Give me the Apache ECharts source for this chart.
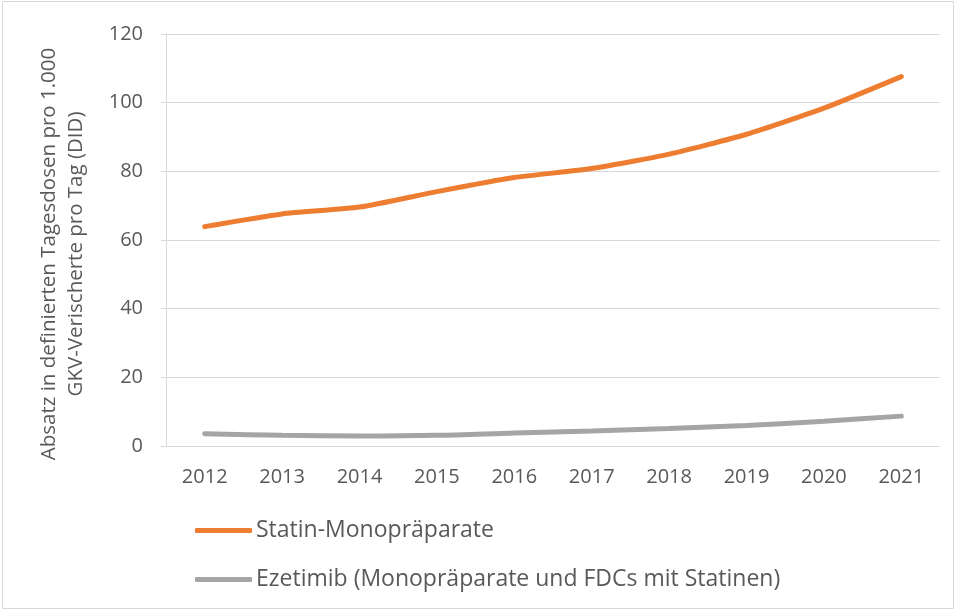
<!DOCTYPE html>
<html><head><meta charset="utf-8">
<script src="https://cdn.jsdelivr.net/npm/echarts@6/dist/echarts.min.js"></script>
<style>html,body{margin:0;padding:0;background:#fff}#c{width:957px;height:612px}</style>
</head><body><div id="c"></div>
<script>
const years = ['2012','2013','2014','2015','2016','2017','2018','2019','2020','2021'];
const statin = [63.9, 67.6, 69.6, 74.1, 78.2, 80.8, 85.0, 90.8, 98.4, 107.6];
const ezetimib = [3.6, 3.1, 2.9, 3.1, 3.8, 4.4, 5.1, 6.0, 7.2, 8.7];
const seriesNames = ['Statin-Monopräparate', 'Ezetimib (Monopräparate und FDCs mit Statinen)'];
const yTitle = 'Absatz in definierten Tagesdosen pro 1.000\nGKV-Verischerte pro Tag (DID)';

const FONT = '"Open Sans", sans-serif';
const chart = echarts.init(document.getElementById('c'), null, {renderer: 'canvas'});
chart.setOption({
  animation: false,
  textStyle: {fontFamily: FONT},
  graphic: [{type: 'rect', shape: {x: 2.5, y: 1.5, width: 951, height: 607}, style: {fill: 'none', stroke: '#d9d9d9', lineWidth: 1}}],
  grid: {left: 166, right: 17, top: 34, bottom: 166, containLabel: false},
  legend: {
    orient: 'vertical', left: 195, top: 519, itemGap: 26, padding: 0,
    itemWidth: 57, itemHeight: 5,
    icon: 'roundRect',
    textStyle: {fontFamily: FONT, fontSize: 23, color: '#595959', padding: [0, 0, 0, -1]},
    data: seriesNames
  },
  xAxis: {
    type: 'category', data: years, boundaryGap: true,
    axisLine: {lineStyle: {color: '#d9d9d9', width: 1}},
    axisTick: {show: false},
    axisLabel: {fontSize: 20, color: '#595959', margin: 21, fontFamily: FONT}
  },
  yAxis: {
    type: 'value', min: 0, max: 120, interval: 20,
    name: yTitle, nameLocation: 'middle', nameGap: 76, nameRotate: 90,
    nameTextStyle: {fontSize: 20.5, color: '#595959', lineHeight: 27, fontFamily: FONT, padding: [0, 28, 0, 0]},
    axisLine: {show: true, lineStyle: {color: '#d9d9d9', width: 1}},
    axisTick: {show: true, inside: false, length: 5, lineStyle: {color: '#d9d9d9'}},
    splitLine: {lineStyle: {color: '#d9d9d9', width: 1}},
    axisLabel: {fontSize: 20, color: '#595959', margin: 23, fontFamily: FONT}
  },
  series: [
    {name: seriesNames[0], type: 'line', data: statin, smooth: 0.2, symbol: 'none',
     lineStyle: {color: '#ED7D31', width: 5, cap: 'round'}, itemStyle: {color: '#ED7D31'}},
    {name: seriesNames[1], type: 'line', data: ezetimib, smooth: 0.3, symbol: 'none',
     lineStyle: {color: '#A5A5A5', width: 5, cap: 'round'}, itemStyle: {color: '#A5A5A5'}}
  ]
});
</script></body></html>
